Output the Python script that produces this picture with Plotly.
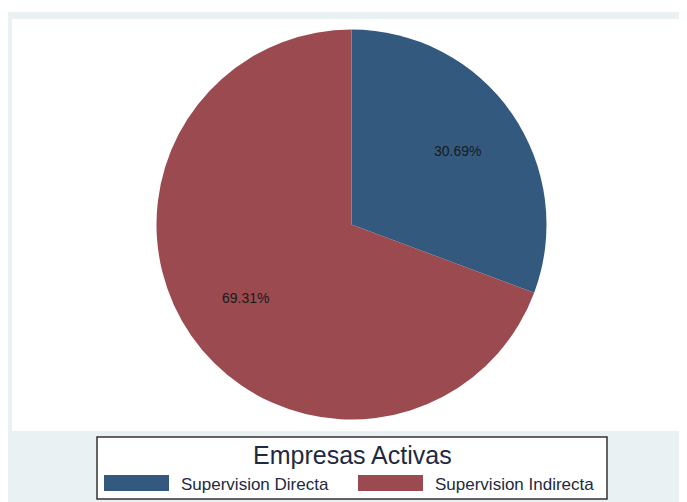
import math
import plotly.graph_objects as go

labels = ["Supervision Directa", "Supervision Indirecta"]
values = [30.69, 69.31]
colors = ["#335A7E", "#9B4A4F"]
legend_title = "Empresas Activas"

# the page body has an 8px margin, so the figure is drawn 8px smaller and offset
OFF = 8
W, H = 687 - OFF, 502 - OFF

def px(x):
    return (x - OFF) / W

def py(y):
    return 1 - (y - OFF) / H

# pie geometry (pixels in the reference)
cx, cy, r = 351.5, 224.5, 195.0

fig = go.Figure()
fig.add_trace(go.Pie(
    labels=labels, values=values, sort=False, direction="clockwise", rotation=0,
    marker=dict(colors=colors, line=dict(width=0)),
    textinfo="none", hoverinfo="label+percent", showlegend=False,
    domain=dict(x=[px(cx - r), px(cx + r)], y=[py(cy + r), py(cy - r)]),
))

shapes = [
    dict(type="rect", xref="paper", yref="paper", x0=px(8), x1=px(687), y0=py(502), y1=py(12),
         fillcolor="#EAF1F3", line=dict(width=0), layer="below"),
    dict(type="rect", xref="paper", yref="paper", x0=px(12), x1=px(687), y0=py(431), y1=py(19),
         fillcolor="#FFFFFF", line=dict(width=0), layer="below"),
    dict(type="rect", xref="paper", yref="paper", x0=px(97), x1=px(607), y0=py(499), y1=py(437),
         fillcolor="#FFFFFF", line=dict(color="#333333", width=1.5), layer="below"),
]

annotations = []
total = sum(values)
cum = 0.0
for v in values:
    mid = (cum + v / 2) / total * 2 * math.pi
    cum += v
    lx = cx + 0.66 * r * math.sin(mid)
    ly = cy - 0.66 * r * math.cos(mid)
    annotations.append(dict(x=px(lx), y=py(ly), xref="paper", yref="paper", showarrow=False,
                            text=f"{v / total * 100:.2f}%", font=dict(size=14, color="#1a1a1a"),
                            xanchor="center", yanchor="middle"))

annotations.append(dict(x=px(352.5), y=py(455), xref="paper", yref="paper", showarrow=False,
                        text=legend_title, font=dict(size=25, color="#1E2A40"),
                        xanchor="center", yanchor="middle"))

sw_x = [104, 358]
for i, lab in enumerate(labels):
    shapes.append(dict(type="rect", xref="paper", yref="paper", x0=px(sw_x[i]), x1=px(sw_x[i] + 65),
                       y0=py(491), y1=py(475), fillcolor=colors[i], line=dict(width=0)))
    annotations.append(dict(x=px(sw_x[i] + 75), y=py(484), xref="paper", yref="paper", showarrow=False,
                            text=lab, font=dict(size=17, color="#1E2A40"),
                            xanchor="left", yanchor="middle"))

fig.update_layout(
    width=W, height=H, margin=dict(l=0, r=0, t=0, b=0),
    paper_bgcolor="#FFFFFF", plot_bgcolor="#FFFFFF",
    font=dict(family="Liberation Sans, Arial, sans-serif"),
    shapes=shapes, annotations=annotations, showlegend=False,
)

fig.write_html("out.html")
